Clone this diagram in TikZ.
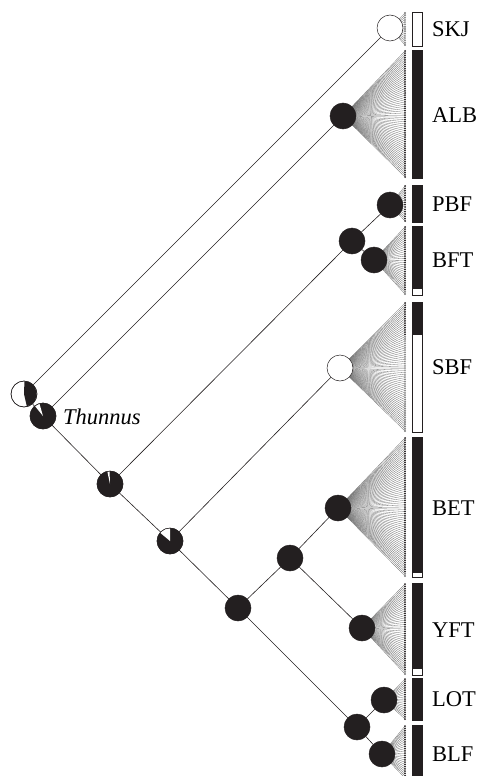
\documentclass[tikz,border=0pt]{standalone}
\usepackage{fontspec}
\setmainfont{Liberation Serif}
\usetikzlibrary{backgrounds}
\definecolor{ink}{HTML}{231F20}
\definecolor{fangray}{gray}{0.42}
\tikzset{
  branch/.style={draw=ink, line width=0.6pt},
  fanline/.style={draw=fangray, line width=0.3pt},
  anc/.style={circle, minimum size=26pt, inner sep=0pt, draw=ink, line width=0.5pt, fill=ink},
  openanc/.style={anc, fill=white},
  barfull/.style={fill=ink, draw=ink, line width=0.4pt},
  barempty/.style={fill=white, draw=ink, line width=0.6pt},
  lab/.style={anchor=west, inner sep=0pt, font=\fontsize{22.5}{22.5}\selectfont},
}
% fan of lines from an ancestor node to its sampled tips, then the tip marks
% #1 node, #2 first tip y, #3 last tip y, #4 number of tips, #5 number of dark tips from the top
\newcommand\tipfan[5]{%
  \begin{pgfonlayer}{background}
  \foreach \i in {1,...,#4}{
    \pgfmathsetmacro\ty{#2+(#3-#2)*(\i-1)/(#4-1)}
    \coordinate (#1-tip-\i) at (405,-\ty);
    \draw[fanline] (#1.center) -- (#1-tip-\i);
  }
  \end{pgfonlayer}
  \foreach \i in {1,...,#4}{
    \ifnum\i>#5\relax
      \draw[fangray, fill=white, line width=0.3pt] (#1-tip-\i) circle[radius=0.85pt];
    \else
      \fill[ink] (#1-tip-\i) circle[radius=1pt];
    \fi
  }
}
% pie wedge inside a node: #1 node, #2 start angle, #3 end angle, #4 colour
\newcommand\piewedge[4]{%
  \fill[#4] (#1.center) -- ++(#2:12.75pt) arc[start angle=#2, end angle=#3, radius=12.75pt] -- cycle;
  \draw[ink, line width=0.5pt] (#1.center) circle[radius=13pt];
}
\begin{document}
\begin{tikzpicture}[x=1pt, y=1pt]
\useasboundingbox (0,0) rectangle (483,-776);
\clip (0,0) rectangle (483,-776);

% ancestral state nodes
\node[openanc] (root) at (24,-394) {};
\node[anc] (thun) at (43,-416) {};
\node[anc] (n1) at (110,-484) {};
\node[anc] (n2) at (170,-541) {};
\node[anc] (n3) at (238,-608) {};
\node[openanc] (skj) at (390,-28) {};
\node[anc] (alb) at (343,-116) {};
\node[anc] (bluefin) at (352,-241) {};
\node[anc] (pbf) at (390,-205) {};
\node[anc] (bft) at (374,-260) {};
\node[openanc] (sbf) at (340,-368) {};
\node[anc] (betyft) at (290,-558) {};
\node[anc] (bet) at (338,-508) {};
\node[anc] (yft) at (362,-628) {};
\node[anc] (lotblf) at (357,-727) {};
\node[anc] (lot) at (384,-700) {};
\node[anc] (blf) at (382,-754) {};

% pie charts of the deeper nodes
\piewedge{root}{-77}{88}{ink}
\piewedge{thun}{106}{129}{white}
\piewedge{n1}{92}{102}{white}
\piewedge{n2}{90}{140}{white}

% tree branches
\begin{pgfonlayer}{background}
\draw[branch] (root) -- (skj);
\draw[branch] (root) -- (thun);
\draw[branch] (thun) -- (alb);
\draw[branch] (thun) -- (n1);
\draw[branch] (n1) -- (bluefin);
\draw[branch] (bluefin) -- (pbf);
\draw[branch] (bluefin) -- (bft);
\draw[branch] (n1) -- (n2);
\draw[branch] (n2) -- (sbf);
\draw[branch] (n2) -- (n3);
\draw[branch] (n3) -- (betyft);
\draw[branch] (betyft) -- (bet);
\draw[branch] (betyft) -- (yft);
\draw[branch] (n3) -- (lotblf);
\draw[branch] (lotblf) -- (lot);
\draw[branch] (lotblf) -- (blf);
\end{pgfonlayer}

% sampled individuals
\tipfan{skj}{13}{45}{15}{0}
\tipfan{alb}{51}{177}{58}{58}
\tipfan{pbf}{186}{221}{16}{16}
\tipfan{bft}{227}{294}{31}{29}
\tipfan{sbf}{303}{431}{58}{15}
\tipfan{bet}{438}{576}{63}{61}
\tipfan{yft}{584}{674}{41}{39}
\tipfan{lot}{679}{719}{19}{19}
\tipfan{blf}{726}{778}{24}{24}

% assignment bars
\draw[barempty] (412,-12) rectangle (422,-46);
\draw[barfull] (412,-50) rectangle (422,-178);
\draw[barfull] (412,-185) rectangle (422,-222);
\draw[barfull] (412,-226) rectangle (422,-288);
\draw[barempty] (412,-288) rectangle (422,-295);
\draw[barfull] (412,-302) rectangle (422,-334);
\draw[barempty] (412,-334) rectangle (422,-432);
\draw[barfull] (412,-437) rectangle (422,-572);
\draw[barempty] (412,-572) rectangle (422,-577);
\draw[barfull] (412,-583) rectangle (422,-668);
\draw[barempty] (412,-668) rectangle (422,-675);
\draw[barfull] (412,-678) rectangle (422,-720);
\draw[barfull] (412,-725) rectangle (422,-790);

% species labels
\node[lab] (lskj) at (432,-29) {SKJ};
\node[lab] (lalb) at (432,-115) {ALB};
\node[lab] (lpbf) at (432,-204) {PBF};
\node[lab] (lbft) at (432,-260) {BFT};
\node[lab] (lsbf) at (432,-367) {SBF};
\node[lab] (lbet) at (432,-508) {BET};
\node[lab] (lyft) at (432,-630) {YFT};
\node[lab] (llot) at (432,-699) {LOT};
\node[lab] (lblf) at (432,-754) {BLF};
\node[lab] (lthun) at (63,-417) {\itshape Thunnus};
\end{tikzpicture}
\end{document}
